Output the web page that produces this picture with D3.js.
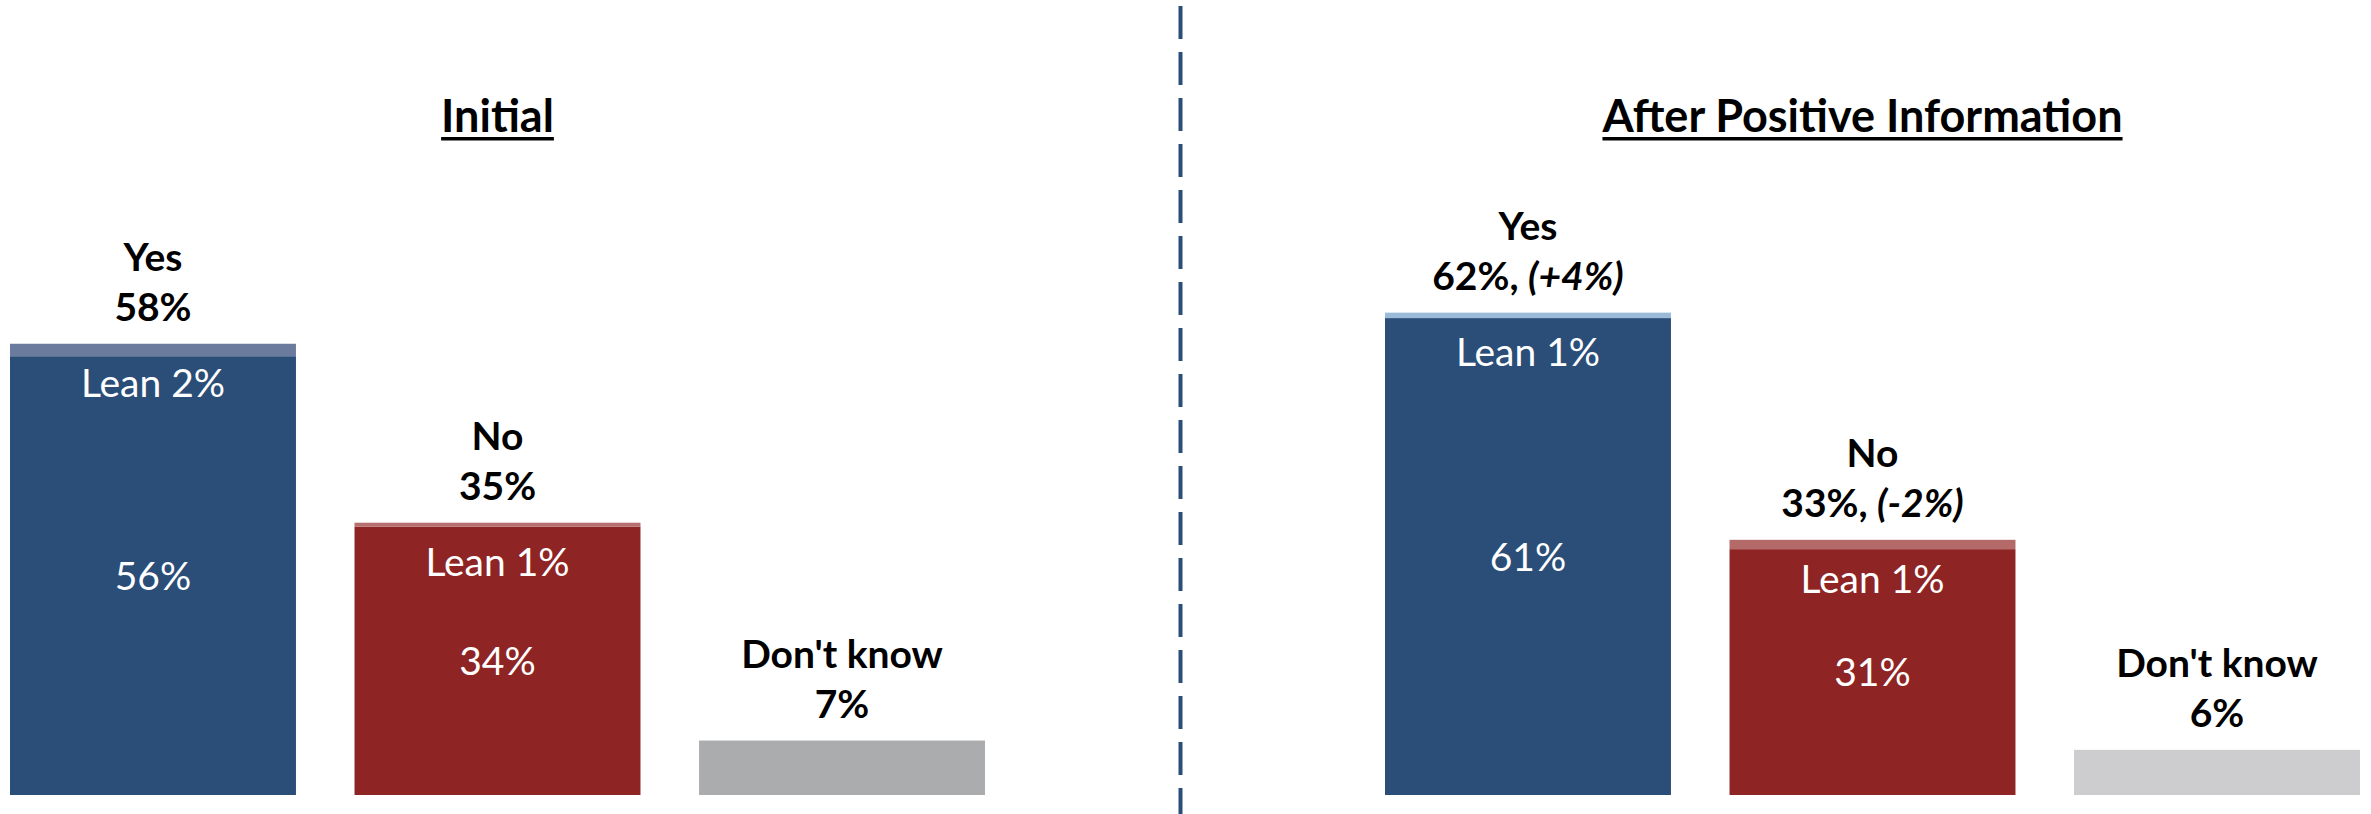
<!DOCTYPE html>
<html>
<head>
<meta charset="utf-8">
<script src="https://cdn.jsdelivr.net/npm/d3@7"></script>
<style>
  html, body { margin: 0; padding: 0; background: #fff; }
  svg { display: block; }
  text { font-family: Lato, "Open Sans", sans-serif; }
</style>
</head>
<body>
<svg id="chart" width="2371" height="814"></svg>
<script>
// ---- data ----
const panelTitles = ["Initial", "After Positive Information"];
const categories = ["Yes", "No", "Don't know"];

const initialFirm = [56.4, 34.5, 7];
const initialLean = [1.6, 0.5, 0];
const afterFirm = [61.3, 31.6, 5.8];
const afterLean = [0.7, 1.2, 0];

const initialPctLabels = ["58%", "35%", "7%"];
const afterPctLabels = ["62%, ", "33%, ", "6%"];
const afterChangeLabels = ["(+4%)", "(-2%)", ""];
const initialLeanLabels = ["Lean 2%", "Lean 1%", ""];
const afterLeanLabels = ["Lean 1%", "Lean 1%", ""];
const initialFirmLabels = ["56%", "34%", ""];
const afterFirmLabels = ["61%", "31%", ""];

// ---- styles ----
const firmColors = ["#2a4e78", "#8e2424", "#abacae"];
const leanColorsInitial = ["#6b7b9e", "#b76e6e", "#abacae"];
const leanColorsAfter = ["#9bbad8", "#b56a6a", "#cdcdcf"];
const dkColors = ["#abacae", "#cdcdcf"];

const panels = [
  { title: panelTitles[0], firm: initialFirm, lean: initialLean, pct: initialPctLabels,
    change: ["", "", ""], leanLab: initialLeanLabels, firmLab: initialFirmLabels,
    leanColors: leanColorsInitial, dk: dkColors[0], range: [10, 985], titleShift: 0 },
  { title: panelTitles[1], firm: afterFirm, lean: afterLean, pct: afterPctLabels,
    change: afterChangeLabels, leanLab: afterLeanLabels, firmLab: afterFirmLabels,
    leanColors: leanColorsAfter, dk: dkColors[1], range: [1385, 2360], titleShift: -10 }
];

const svg = d3.select("#chart");
const y = d3.scaleLinear().domain([0, 100]).range([795, 17]);

panels.forEach(p => {
  const x = d3.scaleBand().domain(categories).range(p.range).paddingInner(0.17).paddingOuter(0);
  const g = svg.append("g");

  categories.forEach((c, i) => {
    const firm = p.firm[i], lean = p.lean[i];
    const fColor = i === 2 ? p.dk : firmColors[i];
    g.append("rect")
      .attr("x", x(c)).attr("width", x.bandwidth())
      .attr("y", y(firm)).attr("height", y(0) - y(firm))
      .attr("fill", fColor);
    if (lean > 0) {
      g.append("rect")
        .attr("x", x(c)).attr("width", x.bandwidth())
        .attr("y", y(firm + lean)).attr("height", y(firm) - y(firm + lean))
        .attr("fill", p.leanColors[i]);
    }
    const top = y(firm + lean);
    const cx = x(c) + x.bandwidth() / 2;
    g.append("text").attr("x", cx).attr("y", top - 73)
      .attr("text-anchor", "middle").attr("font-size", 39).attr("font-weight", 700)
      .attr("fill", "#000").text(c);
    const t = g.append("text").attr("x", cx).attr("y", top - 23)
      .attr("text-anchor", "middle").attr("font-size", 39).attr("font-weight", 700)
      .attr("fill", "#000");
    t.append("tspan").text(p.pct[i]);
    if (p.change[i]) t.append("tspan").attr("font-style", "italic").text(p.change[i]);
    if (p.leanLab[i]) {
      g.append("text").attr("x", cx).attr("y", top + 53)
        .attr("text-anchor", "middle").attr("font-size", 39)
        .attr("fill", "#fff").text(p.leanLab[i]);
    }
    if (p.firmLab[i]) {
      g.append("text").attr("x", cx).attr("y", (y(firm) + y(0)) / 2 + 14)
        .attr("text-anchor", "middle").attr("font-size", 39)
        .attr("fill", "#fff").text(p.firmLab[i]);
    }
  });

  const tx = (p.range[0] + p.range[1]) / 2 + p.titleShift;
  const title = g.append("text").attr("x", tx).attr("y", 132)
    .attr("text-anchor", "middle").attr("font-size", 45).attr("font-weight", 700)
    .attr("fill", "#000").text(p.title);
  const w = title.node().getComputedTextLength();
  g.append("rect").attr("x", tx - w / 2).attr("y", 137).attr("width", w).attr("height", 3.5)
    .attr("fill", "#000");
});

svg.append("line")
  .attr("x1", 1180.5).attr("x2", 1180.5).attr("y1", 6).attr("y2", 814)
  .attr("stroke", "#2a4e78").attr("stroke-width", 4)
  .attr("stroke-dasharray", "33 13");
</script>
</body>
</html>
